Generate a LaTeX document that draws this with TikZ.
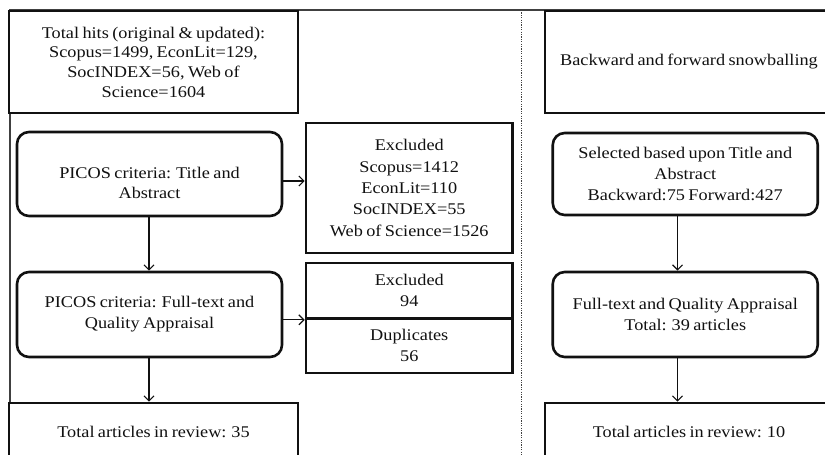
\documentclass[tikz,border=0pt]{standalone}
\usepackage{fontspec}
\setmainfont{Liberation Serif}[FakeStretch=1.12, WordSpace=0.75]
\usetikzlibrary{arrows.meta}
\definecolor{ink}{HTML}{111111}
\definecolor{framegray}{HTML}{404040}
\begin{document}
\begin{tikzpicture}[x=1pt,y=-1pt,
  box/.style={draw=ink, line width=2.6pt, fill=white, text=ink, align=center,
    inner sep=0pt, font=\fontsize{16.3}{21}\selectfont},
  rbox/.style={box, rounded corners=12pt},
  plain/.style={text=ink, align=center, inner sep=0pt, font=\fontsize{16.3}{20.5}\selectfont},
  arr/.style={draw=ink, line width=1.2pt,
    -{Straight Barb[length=5pt,width=10pt,line width=1.2pt]}},
  framel/.style={draw=framegray, line width=1.2pt},
  dotline/.style={draw=framegray, line width=0.9pt, dash pattern=on 1.2pt off 1.2pt}]
\useasboundingbox (0,0) rectangle (825,455);
\clip (0,0) rectangle (825,455);
\coordinate (fbl) at (10,460);
\coordinate (ftl) at (10,10);
\coordinate (ftr) at (830,10);
\coordinate (dtop) at (521,10);
\coordinate (dbot) at (521,460);
\draw[framel] (fbl) -- (ftl) -- (ftr);
\draw[dotline] (dtop) -- (dbot);
% left column
\node[box, minimum width=289pt, minimum height=102pt, font=\fontsize{16.3}{19.7}\selectfont] (hits) at (153.5,62)
  {Total hits (original \& updated):\\Scopus=1499, EconLit=129,\\SocINDEX=56, Web of\\Science=1604};
\node[rbox, minimum width=265pt, minimum height=84pt] (ta) at (149.5,174) {};
\node[plain] (tatext) at (149.5,183) {PICOS criteria: Title and\\Abstract};
\node[box, minimum width=206.5pt, minimum height=130pt, font=\fontsize{16.3}{21.3}\selectfont] (ex1) at (409.25,188)
  {Excluded\\Scopus=1412\\EconLit=110\\SocINDEX=55\\Web of Science=1526};
\node[rbox, minimum width=265pt, minimum height=85pt] (ft) at (149.5,314.5)
  {PICOS criteria: Full-text and\\Quality Appraisal};
\node[box, minimum width=206.5pt, minimum height=55.5pt] (ex2) at (409.25,290.75) {Excluded\\94};
\node[box, minimum width=206.5pt, minimum height=54.5pt] (dup) at (409.25,345.75) {Duplicates\\56};
\node[box, minimum width=289pt, minimum height=58pt] (totl) at (153.5,432) {Total articles in review: 35};
% right column
\node[box, minimum width=288pt, minimum height=102pt] (snow) at (689,62) {Backward and forward snowballing};
\node[rbox, minimum width=265pt, minimum height=82pt] (sel) at (685.25,174)
  {Selected based upon Title and\\Abstract\\Backward:75 Forward:427};
\node[rbox, minimum width=265pt, minimum height=85pt] (ftr2) at (685.25,314.5)
  {Full-text and Quality Appraisal\\Total: 39 articles};
\node[box, minimum width=288pt, minimum height=58pt] (totr) at (689,432) {Total articles in review: 10};
% connectors
\draw[arr] ([yshift=-7pt]ta.east) -- ([yshift=-7pt]ta.east -| ex1.west);
\draw[arr] ([xshift=-0.5pt]ta.south) -- ([xshift=-0.5pt]ta.south |- ft.north);
\draw[arr] (ft.east |- ex2.south west) -- (ex2.south west);
\draw[arr] ([xshift=-0.5pt]ft.south) -- ([xshift=-0.5pt]ft.south |- totl.north);
\draw[arr] ([xshift=-7.75pt]sel.south) -- ([xshift=-7.75pt]sel.south |- ftr2.north);
\draw[arr] ([xshift=-7.75pt]ftr2.south) -- ([xshift=-7.75pt]ftr2.south |- totr.north);
\end{tikzpicture}
\end{document}
